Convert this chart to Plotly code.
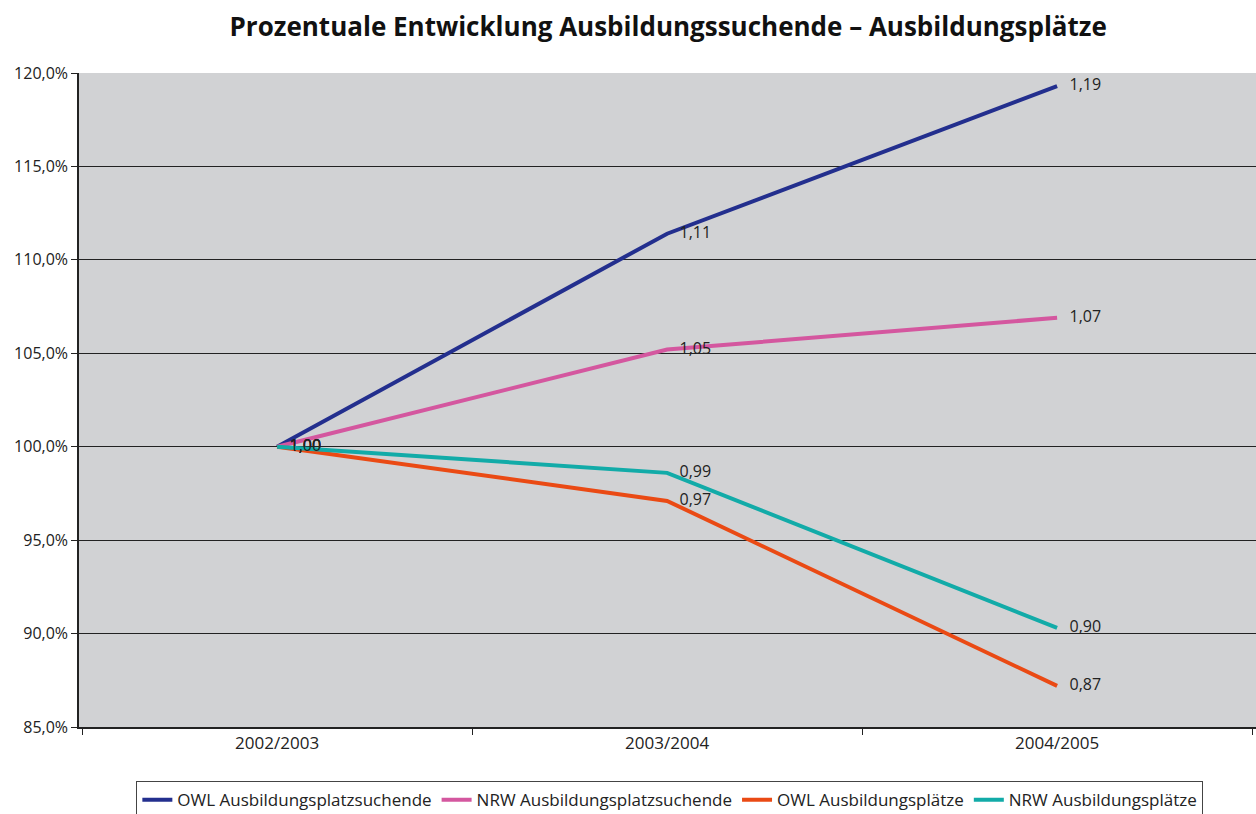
import plotly.graph_objects as go

# school years on the x axis
years = ['2002/2003', '2003/2004', '2004/2005']

# relative development (2002/2003 = 1.00)
owl_suchende = [1.00, 1.114, 1.193]
nrw_suchende = [1.00, 1.052, 1.069]
owl_plaetze = [1.00, 0.971, 0.872]
nrw_plaetze = [1.00, 0.986, 0.903]

series = [
    ('OWL Ausbildungsplatzsuchende', owl_suchende, '#232f8e'),
    ('NRW Ausbildungsplatzsuchende', nrw_suchende, '#d4579f'),
    ('OWL Ausbildungsplätze', owl_plaetze, '#ea4a14'),
    ('NRW Ausbildungsplätze', nrw_plaetze, '#12aba8'),
]

fig = go.Figure()
for name, vals, col in series:
    fig.add_trace(go.Scatter(
        x=years, y=vals, name=name,
        mode='lines+text',
        line=dict(color=col, width=4),
        texttemplate='\u00a0\u00a0\u00a0%{y:.2f}',
        textposition='middle right',
        textfont=dict(size=16, color='#222'),
    ))

fig.update_layout(
    width=1256, height=814,
    title=dict(text='<b>Prozentuale Entwicklung Ausbildungssuchende – Ausbildungsplätze</b>',
               x=0.532, xanchor='center', y=0.967, yanchor='middle',
               font=dict(size=26, color='#111')),
    font=dict(family='Open Sans', size=16, color='#222'),
    separators=',.',
    paper_bgcolor='white',
    plot_bgcolor='#d1d2d4',
    margin=dict(l=79, r=0, t=73, b=87, autoexpand=False),
    showlegend=True,
    legend=dict(orientation='h', x=0.502, xanchor='center', y=-0.083, yanchor='top',
                bordercolor='#444', borderwidth=1, font=dict(size=17),
                itemwidth=30, tracegroupgap=0),
)
fig.update_xaxes(
    range=[-0.508, 2.51], automargin=False,
    showline=True, linecolor='#222', linewidth=1.5,
    ticks='outside', tickson='boundaries', ticklen=6, tickcolor='#222',
    tickfont=dict(size=17),
    showgrid=False, zeroline=False,
)
fig.update_yaxes(
    range=[0.85, 1.20], dtick=0.05, tickformat='.1%', automargin=False,
    showline=True, linecolor='#222', linewidth=1.5,
    ticks='outside', ticklen=6, tickcolor='#222',
    showgrid=True, gridcolor='#222', gridwidth=1, zeroline=False,
)

# drop the default body margin so the figure fills the window exactly
fig.write_html('out.html', config={'displayModeBar': False},
               post_script='document.body.style.margin="0";')
